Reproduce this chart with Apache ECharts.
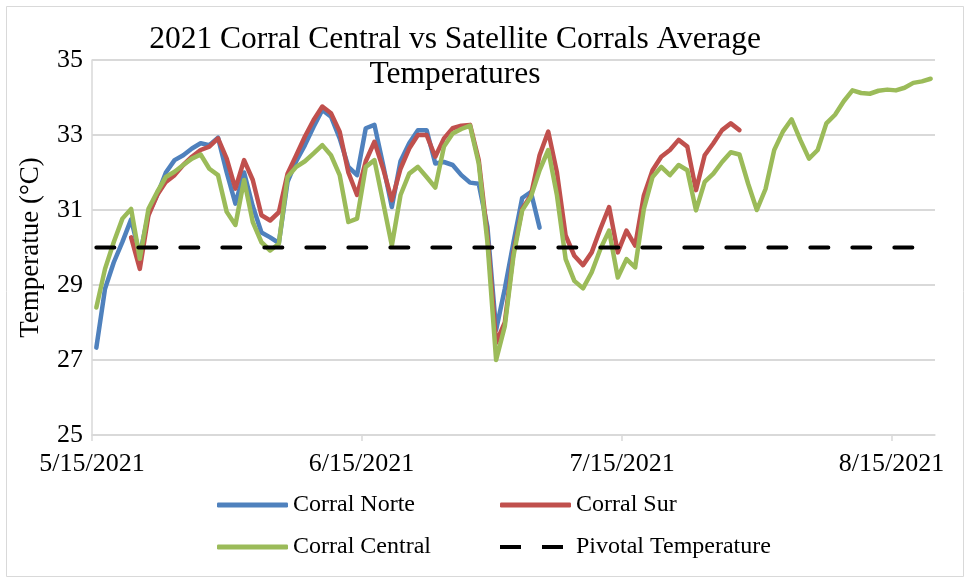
<!DOCTYPE html>
<html>
<head>
<meta charset="utf-8">
<script src="https://cdn.jsdelivr.net/npm/echarts@6/dist/echarts.min.js"></script>
<style>
html,body{margin:0;padding:0;background:#fff;}
#chart{width:969px;height:580px;}
</style>
</head>
<body>
<div id="chart"></div>
<script>
// ---- data (daily averages, first day = 5/15/2021) ----
const firstDay = [2021, 4, 15];
const xTickLabels = ['5/15/2021', '6/15/2021', '7/15/2021', '8/15/2021'];
const yTicks = [25, 27, 29, 31, 33, 35];

const norteStart = 0;
const norte = [27.33, 28.9, 29.6, 30.15, 30.75, 29.8, 30.9, 31.4, 32.0, 32.33,
  32.46, 32.64, 32.78, 32.73, 32.93, 32.0, 31.17, 32.0, 31.1, 30.4,
  30.27, 30.12, 31.75, 32.3, 32.73, 33.22, 33.67, 33.49, 32.91, 32.15,
  31.93, 33.18, 33.27, 32.2, 31.08, 32.3, 32.78, 33.13, 33.13, 32.24,
  32.28, 32.2, 31.93, 31.73, 31.7, 30.55, 27.8, 28.9, 30.14, 31.32,
  31.48, 30.53];

const surStart = 4;
const sur = [30.27, 29.43, 30.86, 31.4, 31.75, 31.93, 32.2, 32.42, 32.6, 32.69,
  32.91, 32.37, 31.57, 32.33, 31.8, 30.86, 30.72, 30.94, 31.97, 32.46,
  32.96, 33.4, 33.76, 33.58, 33.09, 32.0, 31.4, 32.3, 32.82, 32.1,
  31.26, 32.1, 32.64, 33.0, 33.0, 32.42, 32.91, 33.18, 33.25, 33.27,
  32.33, 30.32, 27.46, 28.0, 29.87, 31.03, 31.39, 32.46, 33.09, 32.0,
  30.32, 29.78, 29.53, 29.87, 30.5, 31.08, 29.87, 30.45, 30.05, 31.39,
  32.06, 32.42, 32.6, 32.87, 32.69, 31.53, 32.46, 32.78, 33.13, 33.31,
  33.13];

const centralStart = 0;
const central = [28.4, 29.43, 30.14, 30.77, 31.03, 29.7, 31.03, 31.48, 31.88, 32.02,
  32.2, 32.37, 32.48, 32.1, 31.93, 30.95, 30.6, 31.8, 30.68, 30.14,
  29.92, 30.1, 31.88, 32.15, 32.3, 32.51, 32.73, 32.46, 31.93, 30.68,
  30.77, 32.15, 32.33, 31.2, 30.05, 31.4, 31.97, 32.15, 31.88, 31.6,
  32.69, 33.04, 33.16, 33.25, 32.24, 30.14, 27.0, 27.9, 29.78, 30.99,
  31.35, 32.06, 32.6, 31.39, 29.69, 29.11, 28.91, 29.34, 29.96, 30.45,
  29.2, 29.69, 29.47, 31.03, 31.88, 32.15, 31.93, 32.2, 32.06, 30.99,
  31.75, 31.97, 32.28, 32.54, 32.48, 31.7, 31.0, 31.56, 32.6, 33.09,
  33.42, 32.87, 32.37, 32.6, 33.31, 33.54, 33.9, 34.19, 34.12, 34.1,
  34.18, 34.21, 34.19, 34.26, 34.39, 34.43, 34.5];

const pivotalTemp = 30;

// ---- helpers ----
const FONT = "'Liberation Serif','Times New Roman',serif";
const DAY_MS = 86400000;
const t0 = Date.UTC(firstDay[0], firstDay[1], firstDay[2]);
// x value = days since first day; Excel date axes draw each day's value in the middle of that day
function dayMid(i) { return i + 0.5; }
function toSeries(vals, start) { return vals.map((v, k) => [dayMid(start + k), v]); }
function parseLabel(s) { const p = s.split('/').map(Number); return Math.round((Date.UTC(p[2], p[0] - 1, p[1]) - t0) / DAY_MS); }
const tickValues = xTickLabels.map(parseLabel);
function fmt(v) {
  const idx = tickValues.indexOf(Math.round(v));
  if (idx >= 0) return xTickLabels[idx];
  const d = new Date(t0 + v * DAY_MS);
  return (d.getUTCMonth() + 1) + '/' + d.getUTCDate() + '/' + d.getUTCFullYear();
}

const pivotalData = central.map((_, k) => [dayMid(centralStart + k), pivotalTemp]);

const COLORS = { norte: '#4f81bd', sur: '#c0504d', central: '#9bbb59', pivot: '#000000' };

function legendOf(name, left, top, icon) {
  return {
    data: [name], left: left, top: top, padding: 0, itemGap: 0,
    itemWidth: 71, itemHeight: 5, icon: icon, selectedMode: false,
    textStyle: { fontFamily: FONT, fontSize: 24, color: '#000' }
  };
}

const chart = echarts.init(document.getElementById('chart'), null, { renderer: 'canvas' });
chart.setOption({
  animation: false,
  backgroundColor: '#fff',
  title: {
    text: '2021 Corral Central vs Satellite Corrals Average\nTemperatures',
    left: 455, top: 22, textAlign: 'center', padding: 0,
    textStyle: { fontFamily: FONT, fontSize: 31.5, fontWeight: 'normal', color: '#000', lineHeight: 35 }
  },
  graphic: [{
    type: 'rect', shape: { x: 6.5, y: 6.5, width: 957, height: 570 },
    style: { fill: 'none', stroke: '#d9d9d9', lineWidth: 1 }, silent: true, z: -1
  }],
  legend: [
    legendOf('Corral Norte', 217, 493, 'roundRect'),
    legendOf('Corral Sur', 500, 493, 'roundRect'),
    legendOf('Corral Central', 217, 535, 'roundRect'),
    legendOf('Pivotal Temperature', 500, 535, 'path://M0,0h21v4h-21z M42,0h21v4h-21z M71,0L71,4')
  ],
  grid: { left: 92, right: 34, top: 60, bottom: 145 },
  xAxis: {
    type: 'value',
    min: 0,
    max: central.length,
    axisLine: { show: true, onZero: false, lineStyle: { color: '#d9d9d9', width: 1.5 } },
    axisTick: { show: true, customValues: tickValues, length: 6, lineStyle: { color: '#d9d9d9', width: 1.5 } },
    axisLabel: {
      customValues: tickValues, formatter: fmt, margin: 16,
      fontFamily: FONT, fontSize: 26, color: '#000'
    },
    splitLine: { show: false }
  },
  yAxis: {
    type: 'value', min: yTicks[0], max: yTicks[yTicks.length - 1], interval: yTicks[1] - yTicks[0],
    name: 'Temperatue (°C)', nameLocation: 'middle', nameRotate: 90, nameGap: 48,
    nameTextStyle: { fontFamily: FONT, fontSize: 27, color: '#000' },
    axisLine: { show: true, lineStyle: { color: '#d9d9d9', width: 1.5 } },
    axisTick: { show: false },
    axisLabel: { margin: 9, fontFamily: FONT, fontSize: 26, color: '#000' },
    splitLine: { show: true, lineStyle: { color: '#d9d9d9', width: 2 } }
  },
  series: [
    { name: 'Corral Norte', type: 'line', data: toSeries(norte, norteStart), symbol: 'none', color: COLORS.norte,
      lineStyle: { width: 4.5, color: COLORS.norte, cap: 'round', join: 'round' }, emphasis: { disabled: true } },
    { name: 'Corral Sur', type: 'line', data: toSeries(sur, surStart), symbol: 'none', color: COLORS.sur,
      lineStyle: { width: 4.5, color: COLORS.sur, cap: 'round', join: 'round' }, emphasis: { disabled: true } },
    { name: 'Corral Central', type: 'line', data: toSeries(central, centralStart), symbol: 'none', color: COLORS.central,
      lineStyle: { width: 4.5, color: COLORS.central, cap: 'round', join: 'round' }, emphasis: { disabled: true } },
    { name: 'Pivotal Temperature', type: 'line', data: pivotalData, symbol: 'none', color: COLORS.pivot,
      lineStyle: { width: 4, color: COLORS.pivot, type: [18, 24], cap: 'round' }, emphasis: { disabled: true } }
  ]
});
</script>
</body>
</html>
